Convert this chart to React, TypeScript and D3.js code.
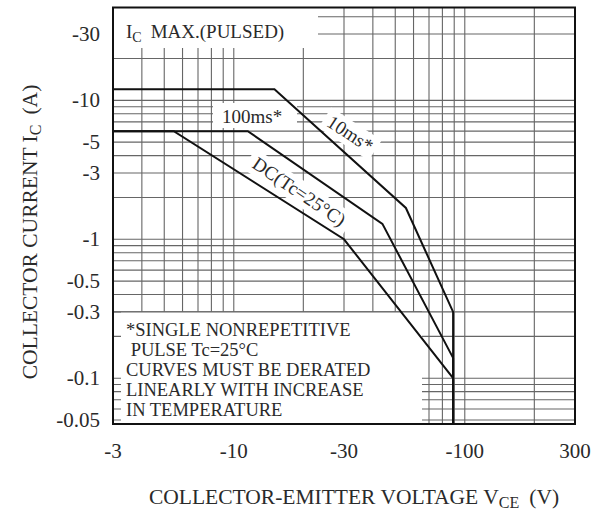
import * as d3 from "d3";

// axis ticks (the sheet prints them with a minus sign, PNP device)
const xTickValues = [3, 10, 30, 100, 300];
const xTickLabels = ["-3", "-10", "-30", "-100", "300"];
const yTickValues = [30, 10, 5, 3, 1, 0.5, 0.3, 0.1, 0.05];
const yTickLabels = ["-30", "-10", "-5", "-3", "-1", "-0.5", "-0.3", "-0.1", "-0.05"];

// grid lines
const xGrid = [4, 5, 6, 7, 8, 9, 10, 20, 30, 40, 50, 60, 70, 80, 90, 100, 200];
const yGrid = [
  0.05, 0.06, 0.07, 0.08, 0.09,
  0.1, 0.2, 0.3, 0.4, 0.5, 0.6, 0.7, 0.8, 0.9,
  1, 2, 3, 4, 5, 6, 7, 8, 9,
  10, 20, 30, 40,
];

// safe operating area curves: [VCE, IC]
const curve10ms: [number, number][] = [[3, 12], [15, 12], [55.6, 1.68], [89, 0.3], [89, 0.047]];
const curve100ms: [number, number][] = [[3, 6], [11.5, 6], [44, 1.29], [89, 0.14], [89, 0.047]];
const curveDC: [number, number][] = [[3, 6], [5.5, 6], [30, 1], [89, 0.1], [89, 0.047]];

const noteLines = [
  "*SINGLE NONREPETITIVE",
  " PULSE Tc=25\u00b0C",
  "CURVES MUST BE DERATED",
  "LINEARLY WITH INCREASE",
  "IN TEMPERATURE",
];

const W = 605, H = 525;
const L = 113, R = 575, T = 7.5, B = 424;
const FONT = "'Liberation Serif', 'Times New Roman', serif";

export default function App() {
  const x = d3.scaleLog().domain([3, 300]).range([L, R]);
  const y = d3.scaleLog().domain([0.0468, 46.6]).range([B, T]);

  const line = d3.line<[number, number]>()
    .x((d) => x(d[0]))
    .y((d) => y(d[1]));

  const gridColor = "#666";
  const textColor = "#2a2a2a";

  return (
    <svg width={W} height={H} style={{position: "absolute", left: 0, top: 0, background: "#fff"}}
      fontFamily={FONT}>
      <rect x={0} y={0} width={W} height={H} fill="#fff" />

      {/* grid */}
      <g stroke={gridColor} strokeWidth={1.1}>
        {xGrid.map((v) => (
          <line key={"gx" + v} x1={x(v)} x2={x(v)} y1={T} y2={B} />
        ))}
        {yGrid.map((v) => (
          <line key={"gy" + v} x1={L} x2={R} y1={y(v)} y2={y(v)} />
        ))}
      </g>

      {/* label backgrounds */}
      <rect x={L} y={T} width={318 - L} height={48 - T} fill="#fff" />
      <rect x={213} y={103} width={84} height={25} fill="#fff" />
      <g transform="translate(350,134) rotate(33)">
        <rect x={-30} y={-12} width={60} height={24} fill="#fff" />
      </g>
      <g transform="translate(299,192) rotate(34)">
        <rect x={-60} y={-12} width={120} height={24} fill="#fff" />
      </g>
      <rect x={121} y={y(0.3)} width={422 - 121} height={B - y(0.3)} fill="#fff" />
      <line x1={L} x2={422} y1={y(0.3)} y2={y(0.3)} stroke={gridColor} strokeWidth={1.1} />

      {/* curves */}
      <g fill="none" stroke="#111" strokeWidth={2}>
        <path d={line(curve10ms) || ""} />
        <path d={line(curve100ms) || ""} />
        <path d={line(curveDC) || ""} />
      </g>

      {/* curve labels */}
      <g fontSize={19} fill={textColor}>
        <text x={126} y={38}>
          I<tspan fontSize={14} dy={4}>C</tspan>
          <tspan dy={-4} dx={9}>MAX.(PULSED)</tspan>
        </text>
        <text x={222} y={123}>100ms*</text>
        <text transform="translate(350,134) rotate(33)" textAnchor="middle" dy={6}>10ms*</text>
        <text transform="translate(299,192) rotate(34)" textAnchor="middle" dy={6}>DC(Tc=25{"\u00b0"}C)</text>
      </g>

      {/* note */}
      <g fontSize={18.5} fill={textColor}>
        {noteLines.map((s, i) => (
          <text key={i} x={126} y={336 + i * 20} style={{whiteSpace: "pre"}}>{s}</text>
        ))}
      </g>

      {/* frame */}
      <rect x={L} y={T} width={R - L} height={B - T} fill="none" stroke="#111" strokeWidth={2} />

      {/* tick labels */}
      <g fontSize={21} fill={textColor}>
        {yTickValues.map((v, i) => (
          <text key={"yt" + v} x={100} y={y(v)} textAnchor="end" dominantBaseline="central">
            {yTickLabels[i]}
          </text>
        ))}
        {xTickValues.map((v, i) => (
          <text key={"xt" + v} x={x(v)} y={458} textAnchor="middle">
            {xTickLabels[i]}
          </text>
        ))}
      </g>

      {/* axis titles */}
      <g fontSize={21.5} fill={textColor}>
        <text transform="translate(37,232) rotate(-90)" textAnchor="middle">
          COLLECTOR CURRENT I<tspan fontSize={16} dy={4}>C</tspan>
          <tspan dy={-4} dx={10}>(A)</tspan>
        </text>
        <text x={354} y={504} textAnchor="middle">
          COLLECTOR-EMITTER VOLTAGE V<tspan fontSize={16} dy={4}>CE</tspan>
          <tspan dy={-4} dx={10}>(V)</tspan>
        </text>
      </g>
    </svg>
  );
}
